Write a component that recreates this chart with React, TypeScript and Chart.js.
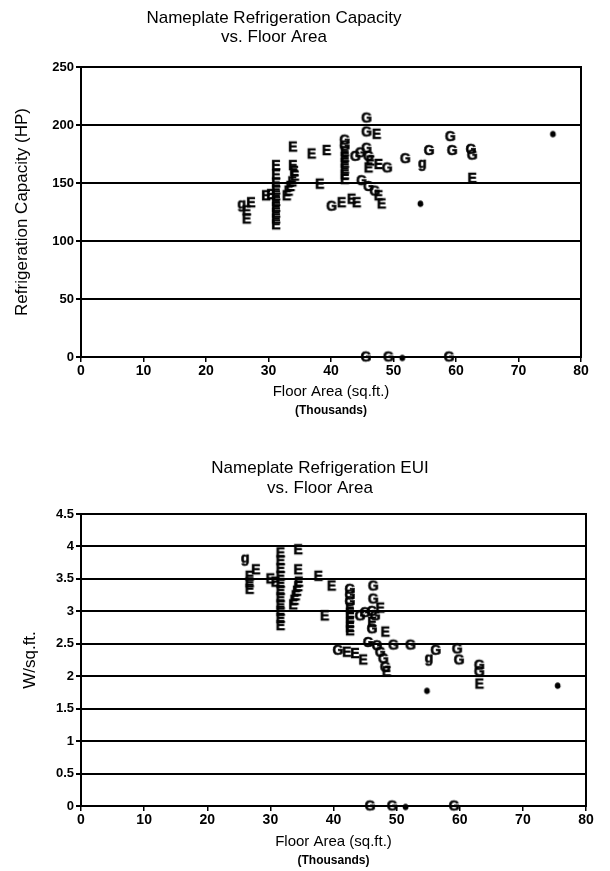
import React, { useEffect, useRef } from "react";
import { Chart, registerables } from "chart.js";
Chart.register(...registerables);

const FONT = '"Liberation Sans", Arial, Helvetica, sans-serif';
const INK = "#000";

// ---------- Chart 1: Nameplate Refrigeration Capacity (HP) vs floor area (thousand sq.ft.)
const capacityE: [number, number][] = [
  [27.2, 133], [26.5, 126], [26.5, 119],
  [31.2, 165], [31.2, 157], [31.2, 150], [31.2, 144], [31.2, 139], [31.2, 134], [31.2, 129], [31.2, 124], [31.2, 119], [31.2, 114],
  [29.6, 139], [30.4, 140],
  [33.9, 181], [33.9, 165], [34.1, 160], [34.2, 156], [33.8, 151], [33.5, 147], [33.2, 143], [32.9, 139],
  [36.9, 175], [39.3, 178], [38.2, 149],
  [42.2, 177], [42.2, 172], [42.2, 167], [42.2, 162], [42.2, 157], [42.2, 153],
  [47.3, 192], [46.3, 169], [47.6, 166], [46.0, 163],
  [47.6, 139], [48.1, 132], [41.7, 133], [43.3, 136], [44.1, 133],
  [62.6, 154],
];
const capacityG: [number, number][] = [
  [45.7, 206], [45.7, 194], [42.2, 187], [42.2, 182], [43.9, 173], [44.7, 176], [45.7, 180], [46.0, 173],
  [49.0, 163], [51.9, 171], [55.7, 178], [59.1, 190], [59.4, 178], [62.4, 179], [62.6, 174],
  [44.9, 152], [46.0, 147], [47.0, 143], [40.1, 130],
  [45.6, 0], [49.2, 0], [58.9, 0],
];
const capacityGSmall: [number, number][] = [[25.7, 132], [54.6, 167]];
const capacityESmall: [number, number][] = [[75.5, 193], [54.3, 133], [51.4, 0]];

// ---------- Chart 2: Nameplate Refrigeration EUI (W/sq.ft.) vs floor area
const euiE: [number, number][] = [
  [27.7, 3.64], [26.7, 3.54], [26.7, 3.44], [26.7, 3.34],
  [31.6, 3.9], [31.6, 3.78], [31.6, 3.66], [31.6, 3.54], [31.6, 3.43], [31.6, 3.32], [31.6, 3.21], [31.6, 3.1], [31.6, 3.0], [31.6, 2.89], [31.6, 2.78],
  [30.0, 3.5], [30.8, 3.45],
  [34.4, 3.95], [34.4, 3.64], [34.5, 3.45], [34.4, 3.38], [34.2, 3.31], [34.0, 3.24], [33.8, 3.17], [33.6, 3.1],
  [37.6, 3.54], [39.7, 3.39], [38.6, 2.93],
  [42.6, 3.05], [42.6, 2.97], [42.6, 2.9], [42.6, 2.82], [42.6, 2.75], [42.6, 2.7],
  [47.4, 3.05], [46.1, 2.83], [48.2, 2.68],
  [42.1, 2.37], [43.4, 2.35], [44.7, 2.25], [48.4, 2.07],
  [63.1, 1.88],
];
const euiG: [number, number][] = [
  [42.6, 3.34], [42.6, 3.25], [42.6, 3.15], [46.3, 3.39], [46.3, 3.19], [44.2, 2.93], [45.0, 2.98], [46.1, 3.0], [46.6, 2.93], [46.1, 2.73],
  [45.5, 2.52], [46.9, 2.47], [47.4, 2.37], [47.9, 2.27], [48.2, 2.14],
  [40.7, 2.4], [49.5, 2.48], [52.2, 2.48], [56.2, 2.4], [59.6, 2.42], [59.9, 2.25], [63.1, 2.17], [63.1, 2.07],
  [45.8, 0], [49.3, 0], [59.1, 0],
];
const euiGSmall: [number, number][] = [[26.0, 3.82], [55.1, 2.28]];
const euiESmall: [number, number][] = [[54.8, 1.79], [75.5, 1.87], [51.4, 0]];

const xTicks = [0, 10, 20, 30, 40, 50, 60, 70, 80];
const capacityTicks = [0, 50, 100, 150, 200, 250];
const euiTicks = [0, 0.5, 1, 1.5, 2, 2.5, 3, 3.5, 4, 4.5];

const chart1Title = ["Nameplate Refrigeration Capacity", "vs. Floor Area"];
const chart1YTitle = "Refrigeration Capacity (HP)";
const chart2Title = ["Nameplate Refrigeration EUI", "vs. Floor Area"];
const chart2YTitle = "W/sq.ft.";
const xTitle = "Floor Area (sq.ft.)";
const xSubTitle = "(Thousands)";

function letterImage(ch: string, size: number, stroke: number) {
  const c = document.createElement("canvas");
  const w = Math.ceil(size * 1.0) + 4;
  const h = Math.ceil(size * 1.2) + 4;
  c.width = w;
  c.height = h;
  const ctx = c.getContext("2d")!;
  ctx.fillStyle = INK;
  ctx.strokeStyle = INK;
  ctx.lineWidth = stroke;
  ctx.font = `bold ${size}px ${FONT}`;
  ctx.textAlign = "center";
  ctx.textBaseline = "middle";
  ctx.fillText(ch, w / 2, h / 2 + 1);
  if (stroke > 0) ctx.strokeText(ch, w / 2, h / 2 + 1);
  return c;
}

const framePlugin = {
  id: "frame",
  beforeDatasetsDraw(chart: any) {
    const { ctx, chartArea } = chart;
    ctx.save();
    ctx.strokeStyle = INK;
    ctx.lineWidth = 2;
    ctx.strokeRect(chartArea.left, chartArea.top, chartArea.right - chartArea.left, chartArea.bottom - chartArea.top);
    ctx.restore();
  },
};

const textPlugin = {
  id: "extraText",
  afterDraw(chart: any, _args: any, opts: any) {
    const { ctx, chartArea } = chart;
    ctx.save();
    ctx.fillStyle = INK;
    ctx.textAlign = "center";
    ctx.textBaseline = "middle";
    for (const t of opts.items || []) {
      ctx.font = t.font;
      const x = t.x === "area" ? (chartArea.left + chartArea.right) / 2 : t.x;
      const y = t.y === "area" ? (chartArea.top + chartArea.bottom) / 2 : t.y;
      if (t.rotate) {
        ctx.save();
        ctx.translate(x, y);
        ctx.rotate(-Math.PI / 2);
        ctx.fillText(t.text, 0, 0);
        ctx.restore();
      } else {
        ctx.fillText(t.text, x, y);
      }
    }
    ctx.restore();
  },
};

type Series = [number, number][];

function buildConfig(p: {
  E: Series; G: Series; g: Series; e: Series;
  yMax: number; yTicks: number[];
  padding: any;
  title: string[]; titleX: number; titleY: number[]; yTitle: string; yTitleX: number;
  xTitleY: number; xSubY: number;
}) {
  const imgE = letterImage("E", 14, 0.6);
  const imgG = letterImage("G", 14, 0.6);
  const imgg = letterImage("g", 14, 0.6);
  const imge = letterImage("e", 9, 1.4);
  const toPts = (s: Series) => s.map(([x, y]) => ({ x, y }));
  const ds = (label: string, s: Series, img: HTMLCanvasElement) => ({
    label,
    data: toPts(s),
    pointStyle: img,
    showLine: false,
    clip: false,
  });
  return {
    type: "scatter",
    data: {
      datasets: [ds("E", p.E, imgE), ds("G", p.G, imgG), ds("g", p.g, imgg), ds("e", p.e, imge)],
    },
    options: {
      animation: false,
      responsive: false,
      layout: { padding: p.padding },
      plugins: {
        legend: { display: false },
        tooltip: { enabled: false },
        title: { display: false },
        extraText: {
          items: [
            { text: p.title[0], x: p.titleX, y: p.titleY[0], font: `17px ${FONT}` },
            { text: p.title[1], x: p.titleX, y: p.titleY[1], font: `17px ${FONT}` },
            { text: p.yTitle, x: p.yTitleX, y: "area", font: `17px ${FONT}`, rotate: true },
            { text: xTitle, x: "area", y: p.xTitleY, font: `15px ${FONT}` },
            { text: xSubTitle, x: "area", y: p.xSubY, font: `bold 12px ${FONT}` },
          ],
        },
      },
      scales: {
        x: {
          type: "linear",
          min: 0,
          max: 80,
          afterFit: (s: any) => { s.height = 30; },
          afterBuildTicks: (s: any) => { s.ticks = xTicks.map((v) => ({ value: v })); },
          grid: { drawOnChartArea: false, drawTicks: true, tickLength: 5, color: INK, lineWidth: 1.5 },
          border: { display: false },
          ticks: { color: INK, font: { family: FONT, size: 14, weight: "bold" }, padding: 1, maxRotation: 0 },
        },
        y: {
          type: "linear",
          min: 0,
          max: p.yMax,
          afterFit: (s: any) => { s.width = 50; },
          afterBuildTicks: (s: any) => { s.ticks = p.yTicks.map((v) => ({ value: v })); },
          grid: { drawOnChartArea: true, drawTicks: true, tickLength: 5, color: INK, lineWidth: 2 },
          border: { display: false },
          ticks: {
            color: INK,
            font: { family: FONT, size: 13, weight: "bold" },
            padding: 2,
            callback: (v: any) => String(v),
          },
        },
      },
    },
    plugins: [framePlugin, textPlugin],
  } as any;
}

function ChartCanvas({ config, width, height, top }: { config: () => any; width: number; height: number; top: number }) {
  const ref = useRef<HTMLCanvasElement | null>(null);
  useEffect(() => {
    if (!ref.current) return;
    const chart = new Chart(ref.current, config());
    return () => chart.destroy();
  }, []);
  return (
    <canvas
      ref={ref}
      width={width}
      height={height}
      style={{ position: "absolute", left: 0, top, width, height, display: "block" }}
    />
  );
}

export default function App() {
  return (
    <div style={{ position: "absolute", left: 0, top: 0, width: 610, height: 871, background: "#fff" }}>
      <ChartCanvas
        width={610}
        height={435}
        top={0}
        config={() =>
          buildConfig({
            E: capacityE, G: capacityG, g: capacityGSmall, e: capacityESmall,
            yMax: 250, yTicks: capacityTicks,
            padding: { left: 31, right: 29, top: 67, bottom: 48 },
            title: chart1Title, titleX: 274, titleY: [18, 37],
            yTitle: chart1YTitle, yTitleX: 22,
            xTitleY: 392, xSubY: 411,
          })
        }
      />
      <ChartCanvas
        width={610}
        height={436}
        top={435}
        config={() =>
          buildConfig({
            E: euiE, G: euiG, g: euiGSmall, e: euiESmall,
            yMax: 4.5, yTicks: euiTicks,
            padding: { left: 31, right: 24, top: 79, bottom: 35 },
            title: chart2Title, titleX: 320, titleY: [33, 53],
            yTitle: chart2YTitle, yTitleX: 30,
            xTitleY: 407, xSubY: 426,
          })
        }
      />
    </div>
  );
}
